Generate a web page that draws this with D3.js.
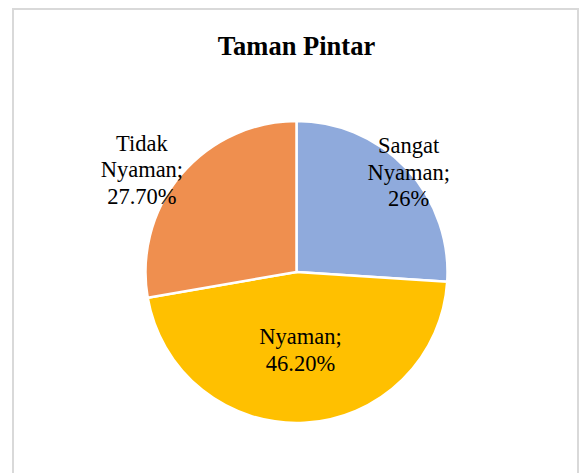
<!DOCTYPE html>
<html>
<head>
<meta charset="utf-8">
<script src="https://cdn.jsdelivr.net/npm/d3@7"></script>
<style>
  html, body { margin: 0; padding: 0; background: #ffffff; }
  svg { display: block; }
</style>
</head>
<body>
<div id="chart"></div>
<script>
// Data
const CATEGORIES = ['Sangat Nyaman', 'Nyaman', 'Tidak Nyaman']
const VALUES = [26, 46.2, 27.7]
const VALUE_LABELS = ['26%', '46.20%', '27.70%']
const LABEL_LINES = [['Sangat', 'Nyaman;'], ['Nyaman;'], ['Tidak', 'Nyaman;']]

// Layout and style
const WIDTH = 579
const HEIGHT = 473
const CENTER = { x: 296.5, y: 272 }
const RADIUS = 151
const COLORS = ['#8faadc', '#ffc000', '#ef8f4f']
const FONT = '"Liberation Serif", "Times New Roman", serif'
const LINE_HEIGHT = 26.5

// where each label sits, as a fraction of the radius plus a nudge
const LABEL_LAYOUT = [
  { k: 1.0, dx: 2, dy: 3 },
  { k: 0.5, dx: 0, dy: 2 },
  { k: 1.2, dx: -16, dy: 14 }
]

const svg = d3.select('#chart')
  .append('svg')
  .attr('width', WIDTH)
  .attr('height', HEIGHT)

// chart frame
svg.append('rect')
  .attr('x', 13)
  .attr('y', 9)
  .attr('width', 565)
  .attr('height', 480)
  .attr('fill', '#ffffff')
  .attr('stroke', '#d9d9d9')
  .attr('stroke-width', 2)

svg.append('text') // titulo
  .attr('x', CENTER.x)
  .attr('y', 55)
  .attr('text-anchor', 'middle')
  .style('font-family', FONT)
  .style('font-weight', 'bold')
  .style('font-size', '26.5px')
  .style('fill', '#000000')
  .text('Taman Pintar')

const color = d3.scaleOrdinal()
  .domain(CATEGORIES)
  .range(COLORS)

const pie = d3.pie()
  .sort(null)
  .value(d => d.value)

const DATA = CATEGORIES.map((c, i) => ({ name: c, value: VALUES[i], label: VALUE_LABELS[i], lines: LABEL_LINES[i] }))
const arcs = pie(DATA)

const arc = d3.arc()
  .innerRadius(0)
  .outerRadius(RADIUS)

const g = svg.append('g')
  .attr('transform', `translate(${CENTER.x},${CENTER.y})`)

g.selectAll('path')
  .data(arcs)
  .join('path')
  .attr('d', arc)
  .attr('fill', d => color(d.data.name))
  .attr('stroke', '#ffffff')
  .attr('stroke-width', 2.5)
  .attr('stroke-linejoin', 'round')

// data labels
arcs.forEach((d, i) => {
  const lay = LABEL_LAYOUT[i]
  const r = RADIUS * lay.k
  const labelArc = d3.arc().innerRadius(r).outerRadius(r)
  const [cx, cy] = labelArc.centroid(d)
  const lines = d.data.lines.concat([d.data.label])
  const x = cx + lay.dx
  const y0 = cy + lay.dy - (lines.length - 1) * LINE_HEIGHT / 2 + 8

  const t = g.append('text')
    .attr('text-anchor', 'middle')
    .style('font-family', FONT)
    .style('font-size', '22.5px')
    .style('fill', '#000000')

  lines.forEach((line, j) => {
    t.append('tspan')
      .attr('x', x)
      .attr('y', y0 + j * LINE_HEIGHT)
      .text(line)
  })
})
</script>
</body>
</html>
